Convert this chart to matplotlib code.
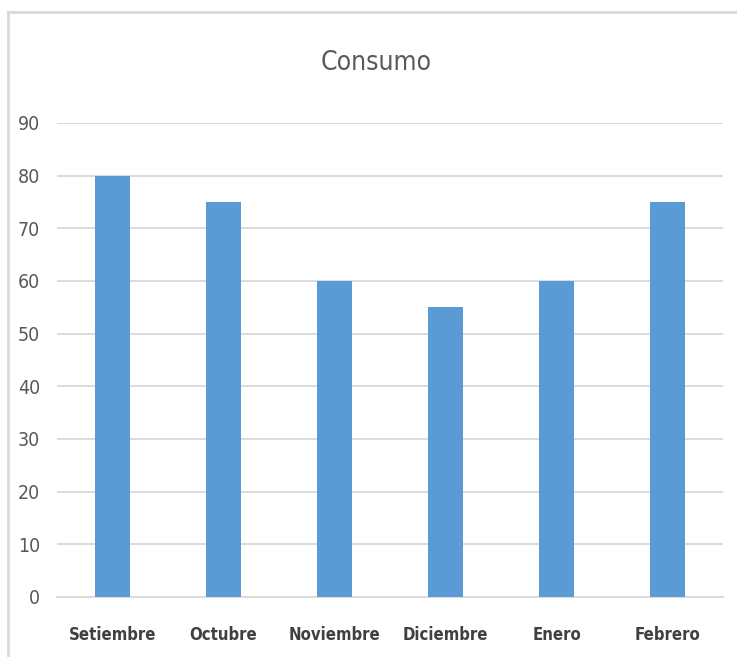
import matplotlib.pyplot as plt
from matplotlib.lines import Line2D

months = ['Setiembre', 'Octubre', 'Noviembre', 'Diciembre', 'Enero', 'Febrero']
consumo = [80, 75, 60, 55, 60, 75]
yticks = [0, 10, 20, 30, 40, 50, 60, 70, 80, 90]

plt.rcParams['font.family'] = ['DejaVu Sans']
plt.rcParams['font.stretch'] = 'condensed'

fig = plt.figure(figsize=(7.37, 6.57), dpi=100)
# chart area border (only top and left edges fall inside the image)
bx, by = 7.5 / 737, 1 - 11.5 / 657
fig.add_artist(Line2D([bx, 1.0], [by, by], transform=fig.transFigure,
                      color='#D9D9D9', linewidth=2))
fig.add_artist(Line2D([bx, bx], [0.0, by], transform=fig.transFigure,
                      color='#D9D9D9', linewidth=2))

ax = fig.add_axes([57 / 737, 1 - 597 / 657, (723 - 57) / 737, (597 - 123) / 657])
x = range(len(months))
ax.bar(x, consumo, width=0.31, color='#5B9BD5', zorder=3)
ax.set_xlim(-0.5, len(months) - 0.5)
ax.set_ylim(0, 90)
ax.set_yticks(yticks)
ax.set_xticks(list(x))
ax.set_xticklabels(months, fontsize=12, fontweight='bold', color='#404040',
                   fontstretch='condensed')
for lab in ax.get_yticklabels():
    lab.set_fontstretch('condensed')
ax.tick_params(axis='y', labelsize=14, labelcolor='#595959', length=0, pad=12)
ax.tick_params(axis='x', length=0, pad=21)
ax.grid(axis='y', color='#D9D9D9', linewidth=1.3, zorder=0)
for s in ['top', 'right', 'left']:
    ax.spines[s].set_visible(False)
ax.spines['bottom'].set_color('#D9D9D9')
ax.spines['bottom'].set_linewidth(1.3)

fig.text(376 / 737, 1 - 63 / 657, 'Consumo', ha='center', va='center',
         fontsize=19, color='#595959', fontstretch='condensed')

fig.savefig('out.png', dpi=100)
